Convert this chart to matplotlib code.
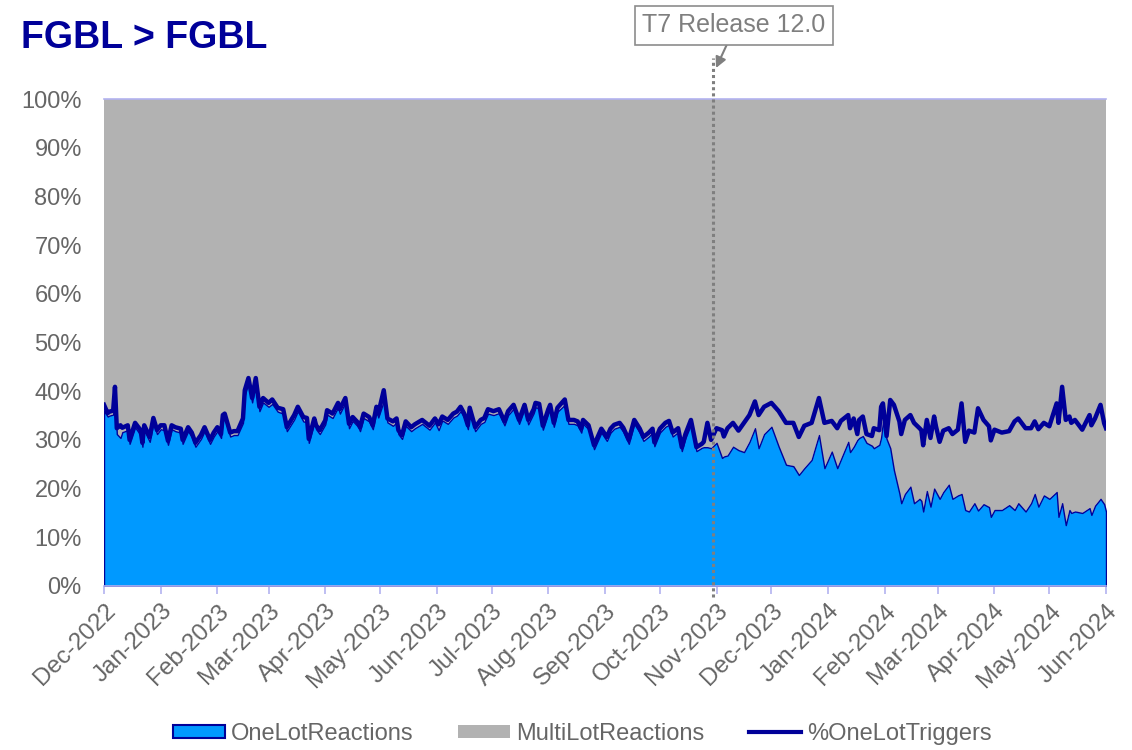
import matplotlib
matplotlib.use("Agg")
import matplotlib.pyplot as plt
from matplotlib.patches import Patch
from matplotlib.lines import Line2D
import numpy as np
import pandas as pd

plt.rcParams['font.family'] = ['Liberation Sans', 'DejaVu Sans']

# Calendar day index counted from 2022-12-01
day = [0, 2, 3, 5, 6, 7, 9, 10, 13, 14, 17, 20, 21, 22, 25, 27, 29, 31, 33, 35,
       37, 39, 42, 43, 46, 48, 50, 53, 55, 58, 60, 62, 64, 65, 66, 69, 71, 73, 76, 77,
       79, 81, 83, 85, 87, 90, 92, 95, 98, 100, 104, 106, 109, 111, 112, 115, 116, 118, 121, 122,
       125, 128, 129, 132, 134, 136, 139, 140, 142, 145, 147, 149, 150, 153, 155, 158, 160, 161, 163, 165,
       168, 170, 174, 178, 181, 183, 185, 188, 191, 193, 195, 197, 199, 200, 203, 206, 208, 210, 213, 216,
       219, 221, 224, 227, 230, 232, 235, 236, 238, 240, 243, 244, 246, 248, 252, 254, 257, 259, 261, 262,
       265, 268, 272, 275, 277, 279, 282, 284, 287, 290, 293, 295, 298, 300, 301, 304, 307, 309, 311, 314,
       316, 318, 321, 324, 327, 328, 330, 332, 335, 338, 339, 341, 344, 347, 350, 353, 356, 358, 361, 365,
       369, 373, 377, 380, 383, 387, 391, 394, 398, 401, 403, 407, 408, 410, 412, 413, 415, 417, 420, 421,
       424, 425, 426, 428, 430, 432, 435, 436, 438, 441, 443, 446, 447, 448, 450, 452, 454, 455, 457, 459,
       462, 464, 467, 469, 471, 473, 476, 478, 481, 484, 485, 487, 491, 495, 498, 500, 504, 507, 509, 511,
       514, 517, 521, 522, 524, 526, 528, 529, 531, 535, 539, 540, 542, 545, 547, 548]

one_lot_triggers = [37.2, 35.5, 35.8, 36.0, 40.9, 32.4, 33.0, 32.5, 33.0, 30.0, 33.5, 32.0, 29.4, 33.0, 30.6, 34.5, 32.0, 33.0, 33.0, 29.8,
                    33.0, 32.6, 32.3, 30.0, 32.6, 31.5, 29.4, 31.0, 32.6, 30.0, 31.5, 32.6, 31.2, 35.1, 35.4, 31.5, 31.8, 31.8, 34.4, 40.2,
                    42.7, 38.6, 42.7, 36.8, 38.6, 37.6, 38.3, 36.6, 36.3, 32.6, 35.1, 36.8, 34.7, 34.5, 30.2, 34.4, 33.0, 32.0, 34.0, 36.1,
                    35.4, 37.6, 36.3, 38.6, 33.3, 34.7, 33.5, 32.6, 35.4, 34.7, 33.0, 36.8, 35.4, 40.2, 34.4, 33.8, 34.4, 32.0, 31.0, 33.8,
                    32.6, 33.2, 34.1, 32.9, 34.4, 33.2, 34.8, 34.1, 35.4, 35.8, 36.8, 35.4, 33.0, 36.6, 32.6, 34.1, 34.5, 36.3, 35.9, 36.3,
                    33.8, 35.9, 37.2, 34.1, 37.2, 34.1, 36.3, 37.6, 37.4, 32.9, 36.3, 37.2, 33.5, 36.6, 38.3, 34.1, 34.1, 33.8, 32.3, 34.1,
                    33.0, 28.9, 32.3, 30.6, 32.3, 33.1, 33.5, 32.5, 30.0, 34.1, 32.3, 30.6, 31.5, 32.3, 29.5, 32.3, 33.5, 33.9, 31.5, 32.4,
                    28.5, 31.2, 34.1, 28.5, 29.2, 29.6, 33.5, 30.0, 32.4, 32.0, 30.7, 32.4, 33.5, 31.9, 33.5, 35.1, 37.9, 35.1, 36.8, 37.6,
                    35.9, 33.5, 33.5, 30.6, 32.9, 33.5, 38.6, 33.5, 33.9, 32.4, 33.9, 35.1, 32.4, 34.4, 31.2, 34.1, 34.8, 31.2, 30.8, 32.4,
                    32.0, 36.8, 37.5, 30.8, 38.2, 37.2, 33.8, 31.2, 34.1, 35.1, 33.5, 32.4, 32.0, 28.9, 34.1, 30.4, 34.8, 32.8, 29.6, 31.9,
                    32.4, 31.2, 32.1, 37.5, 29.6, 31.9, 31.5, 36.5, 34.1, 32.8, 29.9, 32.1, 31.5, 31.8, 33.8, 34.4, 32.4, 32.4, 33.8, 32.2,
                    33.5, 32.8, 37.5, 33.5, 40.9, 34.1, 34.8, 33.5, 34.1, 32.1, 35.1, 33.0, 34.4, 37.2, 33.4, 32.4]

one_lot_reactions = [36.0, 34.8, 35.0, 35.2, 39.8, 31.2, 30.4, 31.6, 32.0, 29.2, 32.6, 31.0, 28.6, 32.0, 29.6, 33.5, 31.2, 32.2, 32.0, 29.0,
                     32.2, 31.8, 31.5, 29.2, 31.8, 30.6, 28.6, 30.2, 31.8, 29.2, 30.7, 31.8, 30.4, 34.2, 34.5, 30.7, 31.0, 31.0, 33.5, 39.2,
                     41.7, 37.7, 41.7, 35.9, 37.7, 36.8, 37.4, 35.8, 35.4, 31.8, 34.2, 35.9, 33.8, 33.6, 29.4, 33.5, 32.2, 31.2, 33.2, 35.2,
                     34.5, 36.7, 35.4, 37.7, 32.4, 33.9, 32.7, 31.8, 34.5, 33.8, 32.2, 35.9, 34.6, 38.0, 33.6, 32.9, 33.6, 31.2, 30.2, 32.9,
                     31.8, 32.4, 33.3, 32.1, 33.6, 32.0, 34.0, 33.3, 34.6, 35.0, 35.9, 34.6, 32.2, 35.7, 31.8, 33.3, 33.7, 35.4, 35.1, 35.5,
                     33.0, 35.1, 36.4, 33.3, 36.4, 33.2, 35.5, 36.7, 36.5, 32.1, 35.5, 36.4, 32.7, 35.8, 37.2, 33.3, 33.3, 33.0, 31.5, 33.3,
                     32.2, 28.1, 31.5, 29.8, 31.5, 32.3, 32.7, 31.7, 29.2, 33.3, 31.5, 29.8, 30.7, 31.5, 28.7, 31.5, 32.7, 33.1, 30.7, 31.6,
                     27.7, 30.4, 33.2, 27.7, 28.4, 28.5, 28.5, 28.3, 29.4, 26.3, 26.6, 26.8, 28.6, 27.9, 27.5, 29.6, 32.4, 28.3, 31.2, 32.7,
                     28.6, 24.9, 24.6, 22.8, 24.2, 25.9, 31.0, 24.2, 27.6, 24.2, 26.0, 29.6, 27.5, 28.6, 30.0, 30.4, 30.8, 29.4, 28.8, 28.3,
                     29.0, 30.5, 33.7, 30.2, 28.3, 23.8, 19.0, 17.0, 18.9, 20.4, 17.0, 17.9, 17.5, 15.3, 19.5, 16.3, 20.0, 19.3, 17.9, 19.3,
                     20.8, 17.9, 18.6, 18.9, 15.6, 15.3, 17.0, 15.5, 16.8, 16.2, 14.2, 15.6, 15.6, 16.6, 15.6, 17.0, 15.3, 17.0, 18.9, 16.3,
                     18.6, 17.9, 19.3, 14.2, 17.0, 12.5, 15.6, 15.0, 15.3, 15.0, 16.0, 14.6, 16.5, 17.9, 16.8, 15.3]

start_date = pd.Timestamp("2022-12-01")
dates = start_date + pd.to_timedelta(day, unit="D")
multi_lot_reactions = 100 - np.array(one_lot_reactions)  # 100% stacked
release_date = pd.Timestamp("2023-10-30")
month_ticks = pd.date_range("2022-12-01", "2024-06-01", freq="MS")

BLUE = "#0099FF"
GREY = "#B2B2B2"
NAVY = "#000099"
AXIS = "#B3B3F0"
TXT = "#666666"

fig = plt.figure(figsize=(11.32, 7.5), dpi=100)
ax = fig.add_axes([104 / 1132, 164 / 750, 1002 / 1132, 487 / 750])

ax.fill_between(dates, 0, one_lot_reactions, facecolor=BLUE, edgecolor=NAVY, linewidth=1.0, zorder=2)
ax.fill_between(dates, one_lot_reactions, 100, facecolor=GREY, edgecolor="none", linewidth=0, zorder=1)
ax.plot(dates, one_lot_triggers, color=NAVY, linewidth=3.2, zorder=3, solid_joinstyle="round")

ax.set_xlim(start_date, pd.Timestamp("2024-06-01"))
ax.set_ylim(0, 100)
ax.set_yticks(np.arange(0, 101, 10))
ax.set_yticklabels([f"{v}%" for v in range(0, 101, 10)])
ax.set_xticks(month_ticks)
ax.set_xticklabels([d.strftime("%b-%Y") for d in month_ticks], rotation=45, ha="right",
                   rotation_mode="anchor")
ax.tick_params(axis="x", colors=AXIS, length=6, width=1.2, pad=4, labelcolor=TXT, labelsize=17.5)
ax.tick_params(axis="y", length=0, pad=16, labelcolor=TXT, labelsize=17)
for s in ["left", "right"]:
    ax.spines[s].set_visible(False)
for s in ["top", "bottom"]:
    ax.spines[s].set_color(AXIS)
    ax.spines[s].set_linewidth(1.2)
ax.spines["bottom"].set_zorder(5)

# release marker
ax.plot([release_date, release_date], [-2.3, 108.4], color="#7F7F7F", linestyle=(0, (1, 1)),
        linewidth=2.2, zorder=6, clip_on=False)
ax.annotate("T7 Release 12.0", xy=(716 / 1132, 1 - 68 / 750), xycoords="figure fraction",
            xytext=(734 / 1132, 1 - 25 / 750), textcoords="figure fraction",
            ha="center", va="center", fontsize=18, color="#7F7F7F",
            bbox=dict(boxstyle="square,pad=0.3", fc="white", ec="#8C8C8C", lw=1.2),
            arrowprops=dict(arrowstyle="-|>", color="#7F7F7F", lw=1.5, mutation_scale=16,
                            shrinkA=0, shrinkB=0, relpos=(0.48, 0.0)),
            annotation_clip=False)

fig.text(21 / 1132, 1 - 38 / 750, "FGBL > FGBL", fontsize=27, fontweight="bold", color=NAVY,
         ha="left", va="center")

handles = [Patch(facecolor=BLUE, edgecolor=NAVY, linewidth=1.5, label="OneLotReactions"),
           Patch(facecolor=GREY, edgecolor="none", label="MultiLotReactions"),
           Line2D([0], [0], color=NAVY, linewidth=3.0, label="%OneLotTriggers")]
fig.legend(handles=handles, loc="center", bbox_to_anchor=(582 / 1132, 1 - 734 / 750), ncol=3,
           frameon=False, fontsize=17, labelcolor=TXT, handlelength=2.2, handleheight=0.5,
           handletextpad=0.25, columnspacing=1.9, borderpad=0)

fig.savefig("out.png", dpi=100)
